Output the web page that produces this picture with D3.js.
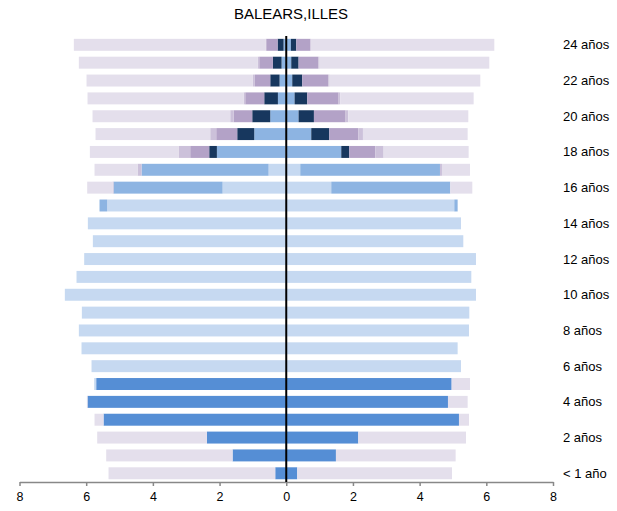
<!DOCTYPE html>
<html>
<head>
<meta charset="utf-8">
<script src="https://cdn.jsdelivr.net/npm/d3@7"></script>
<style>
  body { margin: 0; background: #fff; }
  svg text { font-family: "Liberation Sans", Arial, sans-serif; fill: #000; }
</style>
</head>
<body>
<svg id="chart" width="617" height="511"></svg>
<script>
// ages 0..24, one value per age for each series (left and right halves)
const ages = d3.range(0, 25);
const ageLabels = ["< 1 año", "", "2 años", "", "4 años", "", "6 años", "", "8 años", "", "10 años", "", "12 años",
  "", "14 años", "", "16 años", "", "18 años", "", "20 años", "", "22 años", "", "24 años"];
const xTicks = [-8, -6, -4, -2, 0, 2, 4, 6, 8];
const title = "BALEARS,ILLES";

const seriesKeys = ["s1", "s2", "s3", "s4", "s5", "s6", "s7"];
const seriesColors = ["#558ed5", "#c6d9f1", "#8db4e2", "#17375e", "#b3a2c7", "#ccc1da", "#e4dfec"];

// left half
const left_s1 = [0.33, 1.61, 2.38, 5.48, 5.96, 5.70, 0, 0, 0, 0, 0, 0, 0, 0, 0, 0, 0, 0, 0, 0, 0, 0, 0, 0, 0];
const left_s2 = [0, 0, 0, 0, 0, 0.06, 5.84, 6.14, 6.22, 6.13, 6.64, 6.29, 6.06, 5.80, 5.95, 5.37, 1.91, 0.53, 0.03, 0, 0, 0, 0, 0, 0];
const left_s3 = [0, 0, 0, 0, 0, 0, 0, 0, 0, 0, 0, 0, 0, 0, 0, 0.23, 3.27, 3.81, 2.05, 0.96, 0.48, 0.25, 0.20, 0.14, 0.08];
const left_s4 = [0, 0, 0, 0, 0, 0, 0, 0, 0, 0, 0, 0, 0, 0, 0, 0, 0, 0, 0.23, 0.51, 0.54, 0.41, 0.28, 0.26, 0.18];
const left_s5 = [0, 0, 0, 0, 0, 0, 0, 0, 0, 0, 0, 0, 0, 0, 0, 0, 0, 0, 0.57, 0.63, 0.56, 0.57, 0.46, 0.41, 0.34];
const left_s6 = [0, 0, 0, 0, 0, 0, 0, 0, 0, 0, 0, 0, 0, 0, 0, 0, 0.03, 0.12, 0.35, 0.18, 0.10, 0.05, 0.06, 0.05, 0.02];
const left_s7 = [5.00, 3.79, 3.29, 0.27, 0.02, 0, 0, 0, 0, 0, 0, 0, 0, 0, 0, 0, 0.76, 1.29, 2.66, 3.44, 4.13, 4.68, 4.99, 5.36, 5.75];

// right half
const right_s1 = [0.33, 1.49, 2.16, 5.18, 4.85, 4.96, 0, 0, 0, 0, 0, 0, 0, 0, 0, 0, 0, 0, 0, 0, 0, 0, 0, 0, 0];
const right_s2 = [0, 0, 0, 0, 0, 0, 5.24, 5.14, 5.48, 5.49, 5.69, 5.55, 5.69, 5.31, 5.24, 5.04, 1.35, 0.42, 0, 0, 0, 0, 0, 0, 0];
const right_s3 = [0, 0, 0, 0, 0, 0, 0, 0, 0, 0, 0, 0, 0, 0, 0, 0.10, 3.57, 4.19, 1.65, 0.75, 0.37, 0.25, 0.18, 0.15, 0.14];
const right_s4 = [0, 0, 0, 0, 0, 0, 0, 0, 0, 0, 0, 0, 0, 0, 0, 0, 0, 0, 0.24, 0.54, 0.46, 0.38, 0.30, 0.22, 0.16];
const right_s5 = [0, 0, 0, 0, 0, 0, 0, 0, 0, 0, 0, 0, 0, 0, 0, 0, 0, 0, 0.78, 0.87, 0.95, 0.94, 0.78, 0.59, 0.42];
const right_s6 = [0, 0, 0, 0, 0, 0, 0, 0, 0, 0, 0, 0, 0, 0, 0, 0, 0, 0.06, 0.25, 0.14, 0.08, 0.05, 0.04, 0.04, 0.02];
const right_s7 = [4.64, 3.59, 3.23, 0.30, 0.59, 0.55, 0, 0, 0, 0, 0, 0, 0, 0, 0, 0, 0.66, 0.84, 2.55, 3.14, 3.60, 4.00, 4.52, 5.09, 5.50];

const leftSeries = [left_s1, left_s2, left_s3, left_s4, left_s5, left_s6, left_s7];
const rightSeries = [right_s1, right_s2, right_s3, right_s4, right_s5, right_s6, right_s7];

// build row objects for d3.stack
const buildRows = (series) => ages.map((age, i) => {
  const row = { age: age };
  seriesKeys.forEach((k, j) => { row[k] = series[j][i]; });
  return row;
});

const svg = d3.select("#chart");

const x = d3.scaleLinear().domain([-8, 8]).range([19.5, 553]);
const y = d3.scaleBand()
  .domain(ages.slice().reverse())
  .range([35.9, 482.2])
  .paddingInner(0.33)
  .paddingOuter(0.165);

const stack = d3.stack().keys(seriesKeys);
const color = d3.scaleOrdinal().domain(seriesKeys).range(seriesColors);

const drawHalf = (rows, side) => {
  const layers = stack(rows);
  svg.append("g")
    .selectAll("g")
    .data(layers)
    .join("g")
    .attr("fill", d => color(d.key))
    .selectAll("rect")
    .data(d => d)
    .join("rect")
    .attr("x", d => side < 0 ? x(-d[1]) : x(d[0]))
    .attr("width", d => Math.abs(x(d[1]) - x(d[0])))
    .attr("y", d => y(d.data.age))
    .attr("height", y.bandwidth());
};

drawHalf(buildRows(leftSeries), -1);
drawHalf(buildRows(rightSeries), 1);

// x axis
const xAxis = d3.axisBottom(x)
  .tickValues(xTicks)
  .tickFormat(d => Math.abs(d))
  .tickSize(4)
  .tickSizeOuter(0);

const gx = svg.append("g")
  .attr("transform", "translate(0,482)")
  .call(xAxis);
gx.select(".domain").attr("stroke", "#888").attr("stroke-width", 1.5);
gx.selectAll(".tick line").attr("stroke", "#888").attr("stroke-width", 1.5);
gx.selectAll(".tick text")
  .attr("dy", "0.95em")
  .style("font-size", "12.5px");

// zero line
svg.append("line")
  .attr("x1", x(0)).attr("x2", x(0))
  .attr("y1", 36).attr("y2", 482)
  .attr("stroke", "#000")
  .attr("stroke-width", 2);

// age labels on the right
svg.append("g")
  .selectAll("text")
  .data(ages.filter(a => ageLabels[a] !== ""))
  .join("text")
  .attr("x", 563)
  .attr("y", d => y(d) + y.bandwidth() / 2)
  .attr("dy", "0.35em")
  .style("font-size", "13px")
  .text(d => ageLabels[d]);

// title
svg.append("text")
  .attr("x", 291)
  .attr("y", 19)
  .attr("text-anchor", "middle")
  .style("font-size", "15px")
  .text(title);
</script>
</body>
</html>
